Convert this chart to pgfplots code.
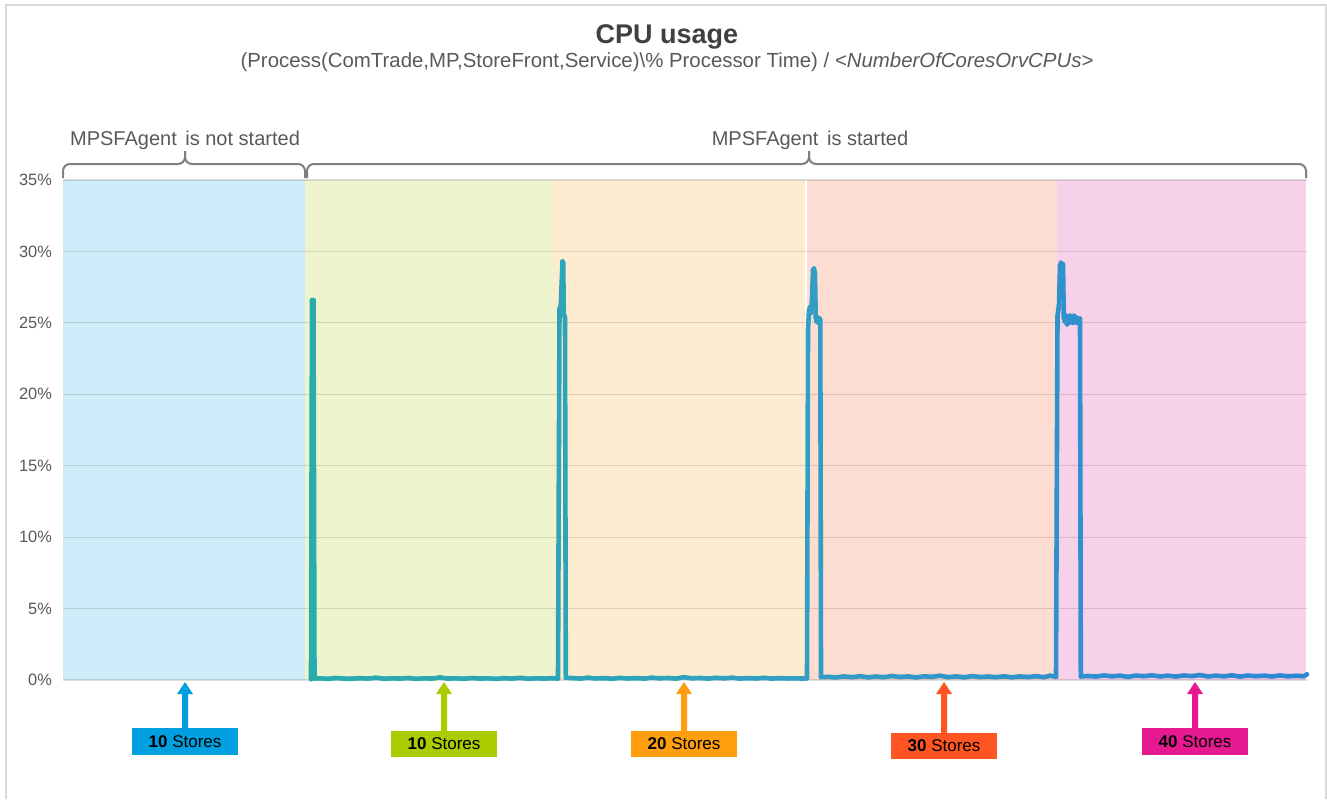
\documentclass[border=0pt]{standalone}
\usepackage{pgfplots}
\pgfplotsset{compat=1.18}
\usepackage{fontspec}
\setmainfont{Liberation Sans}
\definecolor{txtgray}{RGB}{89,89,89}
\definecolor{ttlgray}{RGB}{64,64,64}
\definecolor{brgray}{RGB}{127,127,127}
\definecolor{frgray}{RGB}{217,217,217}
\definecolor{regblue}{RGB}{205,235,248}
\definecolor{reggreen}{RGB}{238,244,206}
\definecolor{regorange}{RGB}{253,236,208}
\definecolor{regred}{RGB}{253,221,210}
\definecolor{regpink}{RGB}{247,208,234}
\definecolor{labblue}{RGB}{0,160,224}
\definecolor{labgreen}{RGB}{170,204,0}
\definecolor{laborange}{RGB}{255,158,15}
\definecolor{labred}{RGB}{255,85,34}
\definecolor{labpink}{RGB}{230,25,145}
\begin{document}
\begin{tikzpicture}
\begin{axis}[
  at={(31.5pt,-340pt)}, anchor=south west,
  scale only axis, width=622pt, height=250pt,
  xmin=63, xmax=1307, ymin=0, ymax=35,
  set layers, clip=false,
  axis line style={draw=none}, tick style={draw=none},
  xtick=\empty,
  ytick={0,5,...,35},
  yticklabel={\pgfmathprintnumber{\tick}\%},
  /pgf/number format/assume math mode=true,
  yticklabel style={font=\fontsize{8.2}{9}\selectfont, text=txtgray, xshift=-2pt},
  ymajorgrids,
  major grid style={black, opacity=0.13, line width=0.6pt},
  colormap={cpu}{rgb255=(40,172,172) rgb255=(50,158,196) rgb255=(46,134,212)},
]
% background regions
\addplot[on layer=axis background, fill=regblue, draw=none] coordinates {(63,0) (305,0) (305,35) (63,35)} -- cycle;
\addplot[on layer=axis background, fill=reggreen, draw=none] coordinates {(305,0) (554,0) (554,35) (305,35)} -- cycle;
\addplot[on layer=axis background, fill=regorange, draw=none] coordinates {(554,0) (805,0) (805,35) (554,35)} -- cycle;
\addplot[on layer=axis background, fill=regred, draw=none] coordinates {(806.5,0) (1057,0) (1057,35) (806.5,35)} -- cycle;
\addplot[on layer=axis background, fill=regpink, draw=none] coordinates {(1057,0) (1306,0) (1306,35) (1057,35)} -- cycle;
% CPU series
\addplot[mesh, point meta=x, line width=2.3pt, line join=round, line cap=round] coordinates {
(311,0.05) (312,26.6) (313.5,26.6) (314.5,0.1) (320,0.12) (328,0.08) (336,0.14) (344,0.1) (352,0.09) (360,0.13) (368,0.1) (376,0.16) (384,0.09) (392,0.12) (400,0.1) (408,0.14) (416,0.08) (424,0.12) (432,0.1) (440,0.18) (448,0.1) (456,0.12) (464,0.09) (472,0.14) (480,0.1) (488,0.12) (496,0.08) (504,0.13) (512,0.1) (520,0.15) (528,0.09) (536,0.12) (544,0.1) (552,0.13) (558,0.1)
(559.5,26.0) (560.5,25.8) (561.5,27.5) (562.5,29.3) (563.2,29.2) (563.8,25.6) (565,25.4) (565.8,0.15)
(572,0.14) (580,0.1) (588,0.16) (596,0.11) (604,0.13) (612,0.09) (620,0.15) (628,0.11) (636,0.13) (644,0.1) (652,0.16) (660,0.12) (668,0.14) (676,0.1) (684,0.2) (692,0.12) (700,0.14) (708,0.1) (716,0.15) (724,0.12) (732,0.16) (740,0.1) (748,0.13) (756,0.11) (764,0.15) (772,0.1) (780,0.13) (788,0.11) (796,0.12) (804,0.1) (807,0.12)
(808,24.5) (809,25.9) (810,26.1) (811,25.7) (812,26.6) (813,28.7) (814,28.8) (815,28.4) (815.7,25.4) (816.5,25.1) (817.5,25.4) (818.5,25.0) (819.5,25.3) (820.3,25.2) (821,0.2)
(828,0.22) (836,0.18) (844,0.25) (852,0.2) (860,0.27) (868,0.19) (876,0.24) (884,0.2) (892,0.28) (900,0.21) (908,0.25) (916,0.18) (924,0.26) (932,0.22) (940,0.3) (948,0.2) (956,0.25) (964,0.19) (972,0.27) (980,0.21) (988,0.24) (996,0.2) (1004,0.26) (1012,0.19) (1020,0.25) (1028,0.21) (1036,0.27) (1044,0.2) (1050,0.3) (1056,0.22)
(1057.5,25.5) (1058.3,25.9) (1059,26.2) (1060,29.0) (1061,29.2) (1062,28.9) (1063,29.1) (1063.8,25.4) (1065,25.1) (1066,25.5) (1067,24.9) (1068,25.4) (1069,25.0) (1070,25.5) (1071,25.1) (1072,25.4) (1073,25.0) (1074,25.5) (1075,25.1) (1076,25.4) (1077,25.0) (1078,25.3) (1079,25.2) (1080,25.3) (1080.8,0.25)
(1088,0.28) (1096,0.24) (1104,0.32) (1112,0.26) (1120,0.3) (1128,0.22) (1136,0.31) (1144,0.27) (1152,0.33) (1160,0.25) (1168,0.3) (1176,0.24) (1184,0.32) (1192,0.27) (1200,0.35) (1208,0.25) (1216,0.3) (1224,0.26) (1232,0.33) (1240,0.24) (1248,0.31) (1256,0.27) (1264,0.3) (1272,0.25) (1280,0.32) (1288,0.26) (1296,0.29) (1304,0.27) (1307,0.4)
};
\end{axis}
\begin{scope}[x=0.5pt,y=-0.5pt]
\path (0,0) rectangle (1327,799);
% frame
\draw[frgray, line width=1pt] (6,799) -- (6,5) -- (1326,5) -- (1326,799);
% titles
\node[anchor=base, text=ttlgray, font=\fontsize{13.5}{15}\selectfont\bfseries] at (667,43) {CPU usage};
\node[anchor=base, text=txtgray, font=\fontsize{10.2}{12}\selectfont] at (667,67) {(Process(ComTrade,MP,StoreFront,Service)\textbackslash\% Processor Time) / \textit{<NumberOfCoresOrvCPUs>}};
% brackets
\draw[brgray, line width=1pt, rounded corners=3.5] (63,178) -- (63,164) -- (185,164) -- (185,151);
\draw[brgray, line width=1pt, rounded corners=3.5] (185,151) -- (185,164) -- (305,164) -- (305,178);
\draw[brgray, line width=1pt, rounded corners=3.5] (307,178) -- (307,164) -- (809,164) -- (809,151);
\draw[brgray, line width=1pt, rounded corners=3.5] (809,151) -- (809,164) -- (1306,164) -- (1306,178);
\node[anchor=base, text=txtgray, font=\fontsize{10}{12}\selectfont] at (185,145) {MPSFAgent\hspace{0.15em} is not started};
\node[anchor=base, text=txtgray, font=\fontsize{10}{12}\selectfont] at (810,145) {MPSFAgent\hspace{0.15em} is started};
% store labels
\foreach \xa/\ya/\yb/\col/\n in {185/728/755/labblue/10, 444/731/757/labgreen/10, 684/731/757/laborange/20, 944/733/759/labred/30, 1195/728/755/labpink/40}{
  \fill[\col] (\xa-53,\ya) rectangle (\xa+53,\yb);
  \fill[\col] (\xa-3,\ya) -- (\xa-3,694) -- (\xa-8,694) -- (\xa,682) -- (\xa+8,694) -- (\xa+3,694) -- (\xa+3,\ya) -- cycle;
  \node[font=\fontsize{8.5}{10}\selectfont, text=black] at (\xa,{(\ya+\yb)/2}) {\textbf{\n} Stores};
}
\end{scope}
\end{tikzpicture}
\end{document}
